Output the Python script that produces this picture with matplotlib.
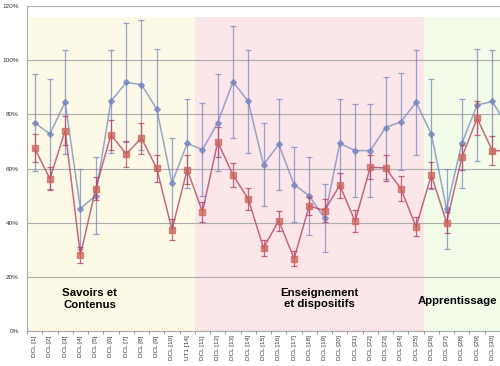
import matplotlib
matplotlib.use("Agg")
import matplotlib.pyplot as plt
from matplotlib.ticker import FixedLocator, PercentFormatter

plt.rcParams['font.family'] = ['Liberation Sans', 'DejaVu Sans']

categories = (["DCL [%d]" % i for i in range(1, 11)] + ["UT1 [14]"] +
              ["DCL [%d]" % i for i in range(11, 31)] + ["DCL [31]"])

blue_values = [76.9, 72.7, 84.5, 45.2, 50.0, 84.8, 91.7, 90.9, 82.0, 54.6,
               69.3, 66.9, 76.9, 92.0, 84.7, 61.4, 68.9, 54.1, 49.9, 41.7,
               69.3, 66.6, 66.6, 75.1, 77.2, 84.4, 72.7, 45.1, 69.3, 83.4,
               84.7, 75.3]
blue_err = [18.0, 20.3, 19.1, 14.8, 14.3, 19.0, 22.0, 23.9, 22.0, 16.6,
            16.5, 17.2, 18.0, 20.6, 19.0, 15.3, 16.8, 13.8, 14.3, 12.5,
            16.5, 17.2, 17.2, 18.8, 17.9, 19.3, 20.2, 14.9, 16.5, 20.6,
            19.0, 18.0]
red_values = [67.5, 56.2, 73.9, 28.1, 52.5, 72.5, 65.3, 71.2, 60.1, 37.5,
              59.6, 44.0, 69.8, 57.6, 48.8, 30.7, 40.8, 26.8, 46.2, 44.5,
              53.8, 40.6, 60.5, 60.2, 52.6, 38.5, 57.6, 40.1, 64.1, 78.5,
              66.6, 66.5]
red_err = [5.2, 4.2, 5.4, 2.8, 4.2, 5.5, 4.9, 5.7, 4.9, 3.9,
           5.2, 3.8, 5.6, 4.6, 4.0, 3.0, 3.7, 2.7, 3.2, 4.1,
           4.5, 4.0, 4.5, 4.8, 4.7, 3.5, 4.8, 3.8, 4.7, 6.3,
           5.2, 5.0]

groups = ["Savoirs et\nContenus", "Enseignement\net dispositifs", "Apprentissage"]
group_spans = [(-0.5, 10.5), (10.5, 25.5), (25.5, 31.5)]
group_colors = ["#FDF9E7", "#FBE6E9", "#F2FCE8"]
group_label_pos = [(3.6, 11.9), (18.65, 12.2), (27.7, 11.0)]

n_visible = 31

fig = plt.figure(figsize=(5.0, 3.66), dpi=100)
ax = fig.add_axes([0.054, 0.0948, 0.946, 0.8896])

x = list(range(len(categories)))

for (a, b), c in zip(group_spans, group_colors):
    ax.axvspan(a, b, ymin=0, ymax=116 / 120, color=c, zorder=0, lw=0)

ax.yaxis.set_major_locator(FixedLocator([0, 20, 40, 60, 80, 100, 120]))
ax.yaxis.set_major_formatter(PercentFormatter(decimals=0))
ax.grid(axis='y', color='#ADADAD', lw=0.8, zorder=1)
ax.set_axisbelow(False)

blue = '#7383C0'
red_line = '#B23A62'
red_marker = '#CC665C'

ax.errorbar(x, blue_values, yerr=blue_err, color=blue, alpha=0.72,
            lw=1.1, elinewidth=0.9, capsize=2.3, capthick=0.9,
            marker='D', markersize=3.0, zorder=3)
ax.errorbar(x, red_values, yerr=red_err, color=red_line, alpha=0.75,
            lw=1.1, elinewidth=0.9, capsize=2.3, capthick=0.9,
            marker='s', markersize=5.0, markerfacecolor=red_marker,
            markeredgecolor=red_marker, zorder=4)

for label, (gx, gy) in zip(groups, group_label_pos):
    ax.text(gx, gy, label, ha='center', va='center', fontsize=8.2,
            fontweight='bold', color='black', linespacing=1.15, zorder=5)

ax.set_xticks(x[:n_visible])
ax.set_xticklabels(categories[:n_visible], rotation=90, fontsize=4.6, color='#333333')
ax.tick_params(axis='x', which='major', length=0, pad=3)
ax.set_xticks([i + 0.5 for i in range(-1, n_visible)], minor=True)
ax.tick_params(axis='x', which='minor', length=2.5, width=0.6, color='#888888')
ax.tick_params(axis='y', length=0, labelsize=4.6, labelcolor='#333333', pad=6)

ax.set_ylim(0, 120)
ax.set_xlim(-0.5, n_visible - 0.5)

for s in ['top', 'right']:
    ax.spines[s].set_visible(False)
ax.spines['left'].set_color('#AAAAAA')
ax.spines['bottom'].set_color('#AAAAAA')
ax.spines['left'].set_linewidth(0.8)
ax.spines['bottom'].set_linewidth(0.8)

fig.savefig("out.png", dpi=100)
